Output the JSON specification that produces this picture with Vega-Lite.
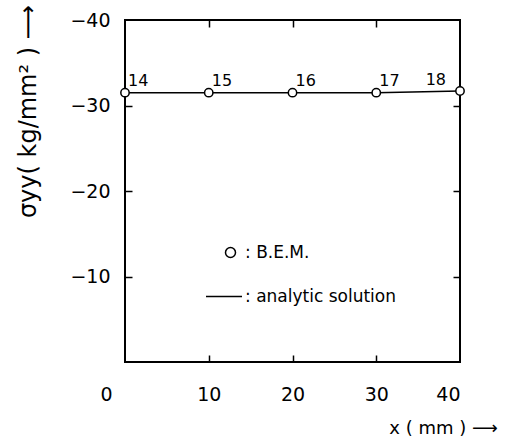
{
  "$schema": "https://vega.github.io/schema/vega-lite/v6.json",
  "width": 335,
  "height": 342,
  "autosize": {"type": "none"},
  "padding": {"left": 125, "top": 20, "right": 54, "bottom": 78},
  "background": "white",
  "config": {
    "view": {"stroke": "black", "strokeWidth": 2},
    "font": "DejaVu Sans",
    "axis": {"grid": false, "domain": false, "labelColor": "black", "titleColor": "black", "titleFontWeight": "normal"}
  },
  "data": {
    "values": [
      {"x": 0, "stress": -31.5, "node": "14", "method": "B.E.M."},
      {"x": 10, "stress": -31.5, "node": "15", "method": "B.E.M."},
      {"x": 20, "stress": -31.5, "node": "16", "method": "B.E.M."},
      {"x": 30, "stress": -31.5, "node": "17", "method": "B.E.M."},
      {"x": 40, "stress": -31.7, "node": "18", "method": "B.E.M."}
    ]
  },
  "layer": [
    {
      "mark": {"type": "line", "color": "black", "strokeWidth": 1.5},
      "encoding": {
        "x": {"field": "x", "type": "quantitative", "scale": {"domain": [0, 40], "nice": false},
          "axis": {"orient": "bottom", "values": [0, 10, 20, 30, 40], "ticks": false, "labelFontSize": 19, "labelPadding": 23,
            "labelOffset": {"condition": {"test": "datum.value === 0", "value": -25}, "value": 0},
            "title": "x ( mm ) ⟶", "titleFontSize": 18, "titleX": 318, "titleY": 66, "titleAlign": "center", "titleBaseline": "middle"}},
        "y": {"field": "stress", "type": "quantitative", "scale": {"domain": [0, -40], "nice": false},
          "axis": {"orient": "left", "values": [-10, -20, -30, -40], "ticks": false, "labelFontSize": 19, "labelPadding": 15,
            "title": "σyy( kg/mm² )  ⟶", "titleFontSize": 24, "titleAngle": 270, "titleX": -97, "titleY": 91, "titleAlign": "center", "titleBaseline": "middle"}}
      }
    },
    {
      "mark": {"type": "point", "filled": false, "color": "black", "fill": "white", "fillOpacity": 1, "strokeWidth": 1.5, "size": 70, "opacity": 1},
      "encoding": {
        "x": {"field": "x", "type": "quantitative", "scale": {"domain": [0, 40], "nice": false},
          "axis": {"orient": "top", "offset": -342, "values": [10, 20, 30], "tickSize": 7, "tickColor": "black", "tickWidth": 1.5, "labels": false, "title": null}},
        "y": {"field": "stress", "type": "quantitative", "scale": {"domain": [0, -40], "nice": false},
          "axis": {"orient": "right", "offset": -335, "values": [-10, -20, -30], "tickSize": 7, "tickColor": "black", "tickWidth": 1.5, "labels": false, "title": null}},
        "shape": {"field": "method", "type": "nominal",
          "scale": {"domain": ["B.E.M.", "analytic solution"], "range": ["circle", "M-4.9,0H2.3"]},
          "legend": {"orient": "none", "legendX": 97, "legendY": 224, "title": null,
            "symbolStrokeWidth": 1.5, "labelFontSize": 17, "labelColor": "black", "labelOffset": 6, "rowPadding": 26,
            "labelExpr": "': ' + datum.label"}}
      }
    },
    {
      "transform": [{"filter": "datum.x < 40"}],
      "mark": {"type": "text", "align": "left", "baseline": "middle", "dx": 3, "dy": -12, "fontSize": 16, "color": "black"},
      "encoding": {
        "x": {"field": "x", "type": "quantitative", "scale": {"domain": [0, 40], "nice": false},
          "axis": {"orient": "bottom", "offset": -342, "values": [10, 20, 30], "tickSize": 7, "tickColor": "black", "tickWidth": 1.5, "labels": false, "title": null}},
        "y": {"field": "stress", "type": "quantitative", "scale": {"domain": [0, -40], "nice": false},
          "axis": {"orient": "left", "offset": -335, "values": [-10, -20, -30], "tickSize": 7, "tickColor": "black", "tickWidth": 1.5, "labels": false, "title": null}},
        "text": {"field": "node"}
      }
    },
    {
      "transform": [{"filter": "datum.x == 40"}],
      "mark": {"type": "text", "align": "right", "baseline": "middle", "dx": -14, "dy": -11, "fontSize": 16, "color": "black"},
      "encoding": {
        "x": {"field": "x", "type": "quantitative", "scale": {"domain": [0, 40], "nice": false}, "axis": null},
        "y": {"field": "stress", "type": "quantitative", "scale": {"domain": [0, -40], "nice": false}, "axis": null},
        "text": {"field": "node"}
      }
    }
  ],
  "resolve": {"axis": {"x": "independent", "y": "independent"}}
}
